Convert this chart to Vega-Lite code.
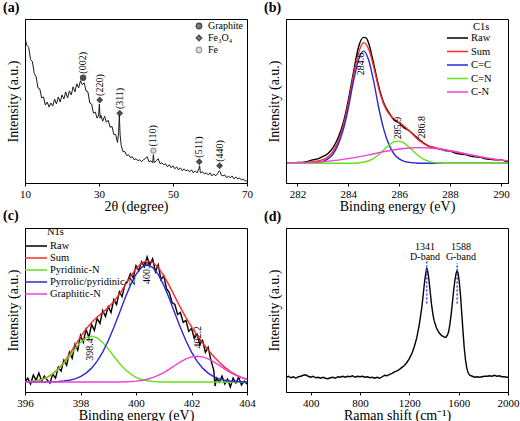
{
"$schema":"https://vega.github.io/schema/vega-lite/v6.json",
"background":"white",
"padding":{"left":2,"top":0,"right":6,"bottom":2},
"columns":2,
"spacing":{"row":45,"column":39},
"bounds":"flush",
"resolve":{"scale":{"color":"independent","shape":"independent","fill":"independent","stroke":"independent","x":"independent","y":"independent"},"legend":{"color":"independent","shape":"independent","fill":"independent","stroke":"independent"}},
"datasets":{
"xrd":[{"t":10,"v":143},{"t":10.5,"v":136},{"t":11,"v":134},{"t":11.5,"v":122},{"t":12,"v":120},{"t":12.5,"v":108},{"t":13,"v":105},{"t":13.5,"v":94},{"t":14,"v":93},{"t":14.5,"v":84},{"t":15,"v":85},{"t":15.5,"v":77},{"t":16,"v":80},{"t":16.5,"v":75},{"t":17,"v":79},{"t":17.5,"v":76},{"t":18,"v":83},{"t":18.5,"v":78},{"t":19,"v":85},{"t":19.5,"v":80},{"t":20,"v":87},{"t":20.5,"v":83},{"t":21,"v":90},{"t":21.5,"v":84},{"t":22,"v":91},{"t":22.5,"v":87},{"t":23,"v":95},{"t":23.5,"v":90},{"t":24,"v":98},{"t":24.5,"v":94},{"t":25,"v":101},{"t":25.5,"v":97},{"t":26,"v":99},{"t":26.5,"v":91},{"t":27,"v":90},{"t":27.5,"v":79},{"t":28,"v":78},{"t":28.5,"v":69},{"t":29,"v":70},{"t":29.5,"v":64},{"t":29.9,"v":67},{"t":30.1,"v":78},{"t":30.3,"v":64},{"t":30.5,"v":67},{"t":31,"v":61},{"t":31.5,"v":66},{"t":32,"v":60},{"t":32.5,"v":62},{"t":33,"v":55},{"t":33.5,"v":56},{"t":34,"v":48},{"t":34.5,"v":48},{"t":35,"v":40},{"t":35.3,"v":50},{"t":35.5,"v":67},{"t":35.7,"v":48},{"t":36,"v":37},{"t":36.5,"v":31},{"t":37,"v":31},{"t":37.5,"v":27},{"t":38,"v":28},{"t":38.5,"v":25},{"t":39,"v":26},{"t":39.5,"v":23},{"t":40,"v":24},{"t":40.5,"v":22},{"t":41,"v":23},{"t":41.5,"v":21},{"t":42,"v":23},{"t":42.5,"v":24},{"t":43,"v":26},{"t":43.5,"v":21},{"t":44,"v":22},{"t":44.5,"v":20},{"t":44.7,"v":28},{"t":44.9,"v":20},{"t":45.5,"v":22},{"t":46,"v":24},{"t":46.5,"v":19},{"t":47,"v":20},{"t":47.5,"v":18},{"t":48,"v":19},{"t":48.5,"v":16},{"t":49,"v":18},{"t":49.5,"v":15},{"t":50,"v":17},{"t":50.5,"v":14},{"t":51,"v":16},{"t":51.5,"v":13},{"t":52,"v":15},{"t":52.5,"v":12},{"t":53,"v":14},{"t":53.5,"v":12},{"t":54,"v":13},{"t":54.5,"v":11},{"t":55,"v":13},{"t":55.5,"v":10},{"t":56,"v":12},{"t":56.5,"v":10},{"t":57,"v":14},{"t":57.2,"v":17},{"t":57.4,"v":10},{"t":58,"v":11},{"t":58.5,"v":9},{"t":59,"v":10},{"t":59.5,"v":8},{"t":60,"v":10},{"t":60.5,"v":7},{"t":61,"v":9},{"t":61.5,"v":7},{"t":62,"v":9},{"t":62.5,"v":12},{"t":62.8,"v":11},{"t":63,"v":8},{"t":63.5,"v":7},{"t":64,"v":8},{"t":64.5,"v":5},{"t":65,"v":7},{"t":65.5,"v":5},{"t":66,"v":7},{"t":66.5,"v":4},{"t":67,"v":6},{"t":67.5,"v":4},{"t":68,"v":5},{"t":68.5,"v":3},{"t":69,"v":4},{"t":69.5,"v":2},{"t":70,"v":2}],
"xrdpk":[{"t":25.7,"m":104,"l":108,"h":"(002)","p":"Graphite"},{"t":30.2,"m":82,"l":86,"h":"(220)","p":"Fe₃O₄"},{"t":35.6,"m":69,"l":73,"h":"(311)","p":"Fe₃O₄"},{"t":44.7,"m":32,"l":36,"h":"(110)","p":"Fe"},{"t":57.1,"m":21,"l":25,"h":"(511)","p":"Fe₃O₄"},{"t":62.6,"m":17,"l":21,"h":"(440)","p":"Fe₃O₄"}],
"c1s":[
{"e":281.6,"v":20.5,"s":"Raw"},{"e":281.8,"v":20.0,"s":"Raw"},{"e":282.0,"v":21.0,"s":"Raw"},{"e":282.2,"v":20.8,"s":"Raw"},{"e":282.4,"v":22.0,"s":"Raw"},{"e":282.6,"v":23.5,"s":"Raw"},{"e":282.8,"v":24.5,"s":"Raw"},{"e":283.0,"v":27,"s":"Raw"},{"e":283.2,"v":30,"s":"Raw"},{"e":283.4,"v":36,"s":"Raw"},{"e":283.6,"v":46,"s":"Raw"},{"e":283.8,"v":61,"s":"Raw"},{"e":284.0,"v":84,"s":"Raw"},{"e":284.2,"v":112,"s":"Raw"},{"e":284.4,"v":138,"s":"Raw"},{"e":284.6,"v":148,"s":"Raw"},{"e":284.7,"v":147.5,"s":"Raw"},{"e":284.8,"v":142,"s":"Raw"},{"e":285.0,"v":121,"s":"Raw"},{"e":285.2,"v":98,"s":"Raw"},{"e":285.4,"v":81,"s":"Raw"},{"e":285.6,"v":71.5,"s":"Raw"},{"e":285.8,"v":64,"s":"Raw"},{"e":286.0,"v":61,"s":"Raw"},{"e":286.2,"v":56,"s":"Raw"},{"e":286.4,"v":53,"s":"Raw"},{"e":286.6,"v":48.5,"s":"Raw"},{"e":286.8,"v":44,"s":"Raw"},{"e":287.0,"v":40,"s":"Raw"},{"e":287.2,"v":37,"s":"Raw"},{"e":287.4,"v":36,"s":"Raw"},{"e":287.6,"v":34.5,"s":"Raw"},{"e":287.8,"v":33,"s":"Raw"},{"e":288.0,"v":32.5,"s":"Raw"},{"e":288.2,"v":30.5,"s":"Raw"},{"e":288.4,"v":29.5,"s":"Raw"},{"e":288.6,"v":29,"s":"Raw"},{"e":288.8,"v":27.5,"s":"Raw"},{"e":289.0,"v":26.5,"s":"Raw"},{"e":289.2,"v":26,"s":"Raw"},{"e":289.4,"v":24.5,"s":"Raw"},{"e":289.6,"v":24,"s":"Raw"},{"e":289.8,"v":23.5,"s":"Raw"},{"e":290.0,"v":23.5,"s":"Raw"},{"e":290.2,"v":22,"s":"Raw"},{"e":290.4,"v":21.5,"s":"Raw"},
{"e":281.6,"v":20.3,"s":"Sum"},{"e":281.8,"v":20.3,"s":"Sum"},{"e":282.0,"v":20.5,"s":"Sum"},{"e":282.2,"v":20.6,"s":"Sum"},{"e":282.4,"v":20.8,"s":"Sum"},{"e":282.6,"v":21.6,"s":"Sum"},{"e":282.8,"v":22.4,"s":"Sum"},{"e":283.0,"v":23.7,"s":"Sum"},{"e":283.2,"v":26.7,"s":"Sum"},{"e":283.4,"v":32.2,"s":"Sum"},{"e":283.6,"v":42.3,"s":"Sum"},{"e":283.8,"v":58.0,"s":"Sum"},{"e":284.0,"v":80.8,"s":"Sum"},{"e":284.2,"v":108.8,"s":"Sum"},{"e":284.4,"v":132.0,"s":"Sum"},{"e":284.6,"v":142.7,"s":"Sum"},{"e":284.8,"v":136.2,"s":"Sum"},{"e":285.0,"v":117.8,"s":"Sum"},{"e":285.2,"v":95.7,"s":"Sum"},{"e":285.4,"v":79.6,"s":"Sum"},{"e":285.6,"v":70.4,"s":"Sum"},{"e":285.8,"v":65.1,"s":"Sum"},{"e":286.0,"v":61.6,"s":"Sum"},{"e":286.2,"v":57.6,"s":"Sum"},{"e":286.4,"v":52.9,"s":"Sum"},{"e":286.6,"v":47.7,"s":"Sum"},{"e":286.8,"v":42.9,"s":"Sum"},{"e":287.0,"v":39.6,"s":"Sum"},{"e":287.2,"v":37.3,"s":"Sum"},{"e":287.4,"v":35.8,"s":"Sum"},{"e":287.6,"v":34.8,"s":"Sum"},{"e":287.8,"v":33.7,"s":"Sum"},{"e":288.0,"v":32.8,"s":"Sum"},{"e":288.2,"v":31.8,"s":"Sum"},{"e":288.4,"v":30.8,"s":"Sum"},{"e":288.6,"v":29.7,"s":"Sum"},{"e":288.8,"v":28.6,"s":"Sum"},{"e":289.0,"v":27.6,"s":"Sum"},{"e":289.2,"v":26.6,"s":"Sum"},{"e":289.4,"v":25.6,"s":"Sum"},{"e":289.6,"v":24.8,"s":"Sum"},{"e":289.8,"v":24.0,"s":"Sum"},{"e":290.0,"v":23.3,"s":"Sum"},{"e":290.2,"v":22.7,"s":"Sum"},{"e":290.4,"v":22.2,"s":"Sum"},
{"e":281.6,"v":20,"s":"C=C"},{"e":282.4,"v":20,"s":"C=C"},{"e":282.6,"v":20.5,"s":"C=C"},{"e":282.8,"v":21,"s":"C=C"},{"e":283.0,"v":22,"s":"C=C"},{"e":283.2,"v":24.5,"s":"C=C"},{"e":283.4,"v":29.5,"s":"C=C"},{"e":283.6,"v":39,"s":"C=C"},{"e":283.8,"v":54,"s":"C=C"},{"e":284.0,"v":76,"s":"C=C"},{"e":284.2,"v":103,"s":"C=C"},{"e":284.4,"v":125,"s":"C=C"},{"e":284.6,"v":134,"s":"C=C"},{"e":284.8,"v":125,"s":"C=C"},{"e":285.0,"v":103,"s":"C=C"},{"e":285.2,"v":76,"s":"C=C"},{"e":285.4,"v":54,"s":"C=C"},{"e":285.6,"v":39,"s":"C=C"},{"e":285.8,"v":29.5,"s":"C=C"},{"e":286.0,"v":24.5,"s":"C=C"},{"e":286.2,"v":22,"s":"C=C"},{"e":286.4,"v":21,"s":"C=C"},{"e":286.6,"v":20.5,"s":"C=C"},{"e":286.8,"v":20,"s":"C=C"},{"e":290.4,"v":20,"s":"C=C"},
{"e":281.6,"v":20,"s":"C=N"},{"e":284.0,"v":20,"s":"C=N"},{"e":284.2,"v":20.1,"s":"C=N"},{"e":284.4,"v":20.4,"s":"C=N"},{"e":284.6,"v":21.1,"s":"C=N"},{"e":284.8,"v":22.6,"s":"C=N"},{"e":285.0,"v":25.1,"s":"C=N"},{"e":285.2,"v":29.0,"s":"C=N"},{"e":285.4,"v":33.8,"s":"C=N"},{"e":285.6,"v":38.5,"s":"C=N"},{"e":285.8,"v":41.9,"s":"C=N"},{"e":286.0,"v":42.6,"s":"C=N"},{"e":286.2,"v":40.5,"s":"C=N"},{"e":286.4,"v":36.2,"s":"C=N"},{"e":286.6,"v":31.3,"s":"C=N"},{"e":286.8,"v":26.9,"s":"C=N"},{"e":287.0,"v":23.7,"s":"C=N"},{"e":287.2,"v":21.7,"s":"C=N"},{"e":287.4,"v":20.7,"s":"C=N"},{"e":287.6,"v":20.3,"s":"C=N"},{"e":287.8,"v":20,"s":"C=N"},{"e":290.4,"v":20,"s":"C=N"},
{"e":281.6,"v":20.3,"s":"C-N"},{"e":282.0,"v":20.5,"s":"C-N"},{"e":282.4,"v":20.8,"s":"C-N"},{"e":282.8,"v":21.4,"s":"C-N"},{"e":283.2,"v":22.2,"s":"C-N"},{"e":283.6,"v":23.3,"s":"C-N"},{"e":284.0,"v":24.8,"s":"C-N"},{"e":284.4,"v":26.6,"s":"C-N"},{"e":284.8,"v":28.6,"s":"C-N"},{"e":285.2,"v":30.8,"s":"C-N"},{"e":285.6,"v":32.8,"s":"C-N"},{"e":286.0,"v":34.5,"s":"C-N"},{"e":286.4,"v":35.6,"s":"C-N"},{"e":286.8,"v":36.0,"s":"C-N"},{"e":287.2,"v":35.6,"s":"C-N"},{"e":287.6,"v":34.5,"s":"C-N"},{"e":288.0,"v":32.8,"s":"C-N"},{"e":288.4,"v":30.8,"s":"C-N"},{"e":288.8,"v":28.6,"s":"C-N"},{"e":289.2,"v":26.6,"s":"C-N"},{"e":289.6,"v":24.8,"s":"C-N"},{"e":290.0,"v":23.3,"s":"C-N"},{"e":290.4,"v":22.2,"s":"C-N"}
],
"c1slab":[{"e":284.49,"v":121,"t":"284.6"},{"e":285.96,"v":56,"t":"285.9"},{"e":286.88,"v":56.7,"t":"286.8"}],
"c1shead":[{"e":288.9,"v":158.5,"t":"C1s"}],
"n1s":[
{"e":396.0,"v":10,"s":"Raw"},{"e":396.1,"v":14,"s":"Raw"},{"e":396.2,"v":8,"s":"Raw"},{"e":396.3,"v":17,"s":"Raw"},{"e":396.4,"v":12,"s":"Raw"},{"e":396.5,"v":19,"s":"Raw"},{"e":396.6,"v":11,"s":"Raw"},{"e":396.7,"v":16,"s":"Raw"},{"e":396.8,"v":12,"s":"Raw"},{"e":396.9,"v":9,"s":"Raw"},{"e":397.0,"v":18,"s":"Raw"},{"e":397.1,"v":14,"s":"Raw"},{"e":397.2,"v":25,"s":"Raw"},{"e":397.3,"v":21,"s":"Raw"},{"e":397.4,"v":32,"s":"Raw"},{"e":397.5,"v":27,"s":"Raw"},{"e":397.6,"v":40,"s":"Raw"},{"e":397.7,"v":34,"s":"Raw"},{"e":397.8,"v":48,"s":"Raw"},{"e":397.9,"v":42,"s":"Raw"},{"e":398.0,"v":57,"s":"Raw"},{"e":398.1,"v":50,"s":"Raw"},{"e":398.2,"v":63,"s":"Raw"},{"e":398.3,"v":55,"s":"Raw"},{"e":398.4,"v":68,"s":"Raw"},{"e":398.5,"v":62,"s":"Raw"},{"e":398.6,"v":74,"s":"Raw"},{"e":398.7,"v":69,"s":"Raw"},{"e":398.8,"v":82,"s":"Raw"},{"e":398.9,"v":76,"s":"Raw"},{"e":399.0,"v":86,"s":"Raw"},{"e":399.1,"v":80,"s":"Raw"},{"e":399.2,"v":93,"s":"Raw"},{"e":399.3,"v":88,"s":"Raw"},{"e":399.4,"v":101,"s":"Raw"},{"e":399.5,"v":96,"s":"Raw"},{"e":399.6,"v":108,"s":"Raw"},{"e":399.7,"v":112,"s":"Raw"},{"e":399.8,"v":119,"s":"Raw"},{"e":399.9,"v":115,"s":"Raw"},{"e":400.0,"v":127,"s":"Raw"},{"e":400.1,"v":122,"s":"Raw"},{"e":400.2,"v":131,"s":"Raw"},{"e":400.3,"v":126,"s":"Raw"},{"e":400.4,"v":136,"s":"Raw"},{"e":400.5,"v":128,"s":"Raw"},{"e":400.6,"v":134,"s":"Raw"},{"e":400.7,"v":121,"s":"Raw"},{"e":400.8,"v":128,"s":"Raw"},{"e":400.9,"v":113,"s":"Raw"},{"e":401.0,"v":117,"s":"Raw"},{"e":401.1,"v":104,"s":"Raw"},{"e":401.2,"v":100,"s":"Raw"},{"e":401.3,"v":90,"s":"Raw"},{"e":401.4,"v":88,"s":"Raw"},{"e":401.5,"v":78,"s":"Raw"},{"e":401.6,"v":80,"s":"Raw"},{"e":401.7,"v":70,"s":"Raw"},{"e":401.8,"v":72,"s":"Raw"},{"e":401.9,"v":61,"s":"Raw"},{"e":402.0,"v":64,"s":"Raw"},{"e":402.1,"v":54,"s":"Raw"},{"e":402.2,"v":58,"s":"Raw"},{"e":402.3,"v":48,"s":"Raw"},{"e":402.4,"v":52,"s":"Raw"},{"e":402.5,"v":40,"s":"Raw"},{"e":402.6,"v":45,"s":"Raw"},{"e":402.7,"v":32,"s":"Raw"},{"e":402.8,"v":22,"s":"Raw"},{"e":402.85,"v":6,"s":"Raw"},{"e":402.9,"v":14,"s":"Raw"},{"e":403.0,"v":10,"s":"Raw"},{"e":403.1,"v":16,"s":"Raw"},{"e":403.2,"v":8,"s":"Raw"},{"e":403.3,"v":13,"s":"Raw"},{"e":403.4,"v":5,"s":"Raw"},{"e":403.5,"v":14,"s":"Raw"},{"e":403.6,"v":9,"s":"Raw"},{"e":403.7,"v":15,"s":"Raw"},{"e":403.8,"v":7,"s":"Raw"},{"e":403.9,"v":11,"s":"Raw"},{"e":404.0,"v":8,"s":"Raw"},
{"e":396.0,"v":10.3,"s":"Sum"},{"e":396.2,"v":10.6,"s":"Sum"},{"e":396.4,"v":11.3,"s":"Sum"},{"e":396.6,"v":12.6,"s":"Sum"},{"e":396.8,"v":14.8,"s":"Sum"},{"e":397.0,"v":18.4,"s":"Sum"},{"e":397.2,"v":23.3,"s":"Sum"},{"e":397.4,"v":29.9,"s":"Sum"},{"e":397.6,"v":37.8,"s":"Sum"},{"e":397.8,"v":46.6,"s":"Sum"},{"e":398.0,"v":55.4,"s":"Sum"},{"e":398.2,"v":63.4,"s":"Sum"},{"e":398.4,"v":70.0,"s":"Sum"},{"e":398.6,"v":75.5,"s":"Sum"},{"e":398.8,"v":80.1,"s":"Sum"},{"e":399.0,"v":85.0,"s":"Sum"},{"e":399.2,"v":91.0,"s":"Sum"},{"e":399.4,"v":98.3,"s":"Sum"},{"e":399.6,"v":107.1,"s":"Sum"},{"e":399.8,"v":116.1,"s":"Sum"},{"e":400.0,"v":124.0,"s":"Sum"},{"e":400.2,"v":129.7,"s":"Sum"},{"e":400.4,"v":132.1,"s":"Sum"},{"e":400.6,"v":130.5,"s":"Sum"},{"e":400.8,"v":125.4,"s":"Sum"},{"e":401.0,"v":117.2,"s":"Sum"},{"e":401.2,"v":107.0,"s":"Sum"},{"e":401.4,"v":96.0,"s":"Sum"},{"e":401.6,"v":85.2,"s":"Sum"},{"e":401.8,"v":74.9,"s":"Sum"},{"e":402.0,"v":65.5,"s":"Sum"},{"e":402.2,"v":57.1,"s":"Sum"},{"e":402.4,"v":49.3,"s":"Sum"},{"e":402.6,"v":42.3,"s":"Sum"},{"e":402.8,"v":35.8,"s":"Sum"},{"e":403.0,"v":29.9,"s":"Sum"},{"e":403.2,"v":24.8,"s":"Sum"},{"e":403.4,"v":20.6,"s":"Sum"},{"e":403.6,"v":17.2,"s":"Sum"},{"e":403.8,"v":14.7,"s":"Sum"},{"e":404.0,"v":12.9,"s":"Sum"},
{"e":396.0,"v":10.3,"s":"Pyridinic-N"},{"e":396.2,"v":10.6,"s":"Pyridinic-N"},{"e":396.4,"v":11.3,"s":"Pyridinic-N"},{"e":396.6,"v":12.6,"s":"Pyridinic-N"},{"e":396.8,"v":14.7,"s":"Pyridinic-N"},{"e":397.0,"v":18.1,"s":"Pyridinic-N"},{"e":397.2,"v":22.8,"s":"Pyridinic-N"},{"e":397.4,"v":28.9,"s":"Pyridinic-N"},{"e":397.6,"v":36.0,"s":"Pyridinic-N"},{"e":397.8,"v":43.4,"s":"Pyridinic-N"},{"e":398.0,"v":49.9,"s":"Pyridinic-N"},{"e":398.2,"v":54.4,"s":"Pyridinic-N"},{"e":398.4,"v":56.0,"s":"Pyridinic-N"},{"e":398.6,"v":54.4,"s":"Pyridinic-N"},{"e":398.8,"v":49.9,"s":"Pyridinic-N"},{"e":399.0,"v":43.4,"s":"Pyridinic-N"},{"e":399.2,"v":36.0,"s":"Pyridinic-N"},{"e":399.4,"v":28.9,"s":"Pyridinic-N"},{"e":399.6,"v":22.8,"s":"Pyridinic-N"},{"e":399.8,"v":18.1,"s":"Pyridinic-N"},{"e":400.0,"v":14.7,"s":"Pyridinic-N"},{"e":400.2,"v":12.6,"s":"Pyridinic-N"},{"e":400.4,"v":11.3,"s":"Pyridinic-N"},{"e":400.6,"v":10.6,"s":"Pyridinic-N"},{"e":400.8,"v":10.3,"s":"Pyridinic-N"},{"e":401.0,"v":10.1,"s":"Pyridinic-N"},{"e":401.2,"v":10,"s":"Pyridinic-N"},{"e":404.0,"v":10,"s":"Pyridinic-N"},
{"e":396.0,"v":10,"s":"Pyrrolic/pyridinic-N"},{"e":396.8,"v":10.1,"s":"Pyrrolic/pyridinic-N"},{"e":397.0,"v":10.3,"s":"Pyrrolic/pyridinic-N"},{"e":397.2,"v":10.5,"s":"Pyrrolic/pyridinic-N"},{"e":397.4,"v":11.0,"s":"Pyrrolic/pyridinic-N"},{"e":397.6,"v":11.8,"s":"Pyrrolic/pyridinic-N"},{"e":397.8,"v":13.2,"s":"Pyrrolic/pyridinic-N"},{"e":398.0,"v":15.5,"s":"Pyrrolic/pyridinic-N"},{"e":398.2,"v":19.0,"s":"Pyrrolic/pyridinic-N"},{"e":398.4,"v":24.0,"s":"Pyrrolic/pyridinic-N"},{"e":398.6,"v":31.1,"s":"Pyrrolic/pyridinic-N"},{"e":398.8,"v":40.2,"s":"Pyrrolic/pyridinic-N"},{"e":399.0,"v":51.6,"s":"Pyrrolic/pyridinic-N"},{"e":399.2,"v":64.9,"s":"Pyrrolic/pyridinic-N"},{"e":399.4,"v":79.3,"s":"Pyrrolic/pyridinic-N"},{"e":399.6,"v":94.0,"s":"Pyrrolic/pyridinic-N"},{"e":399.8,"v":107.5,"s":"Pyrrolic/pyridinic-N"},{"e":400.0,"v":118.4,"s":"Pyrrolic/pyridinic-N"},{"e":400.2,"v":125.5,"s":"Pyrrolic/pyridinic-N"},{"e":400.4,"v":128.0,"s":"Pyrrolic/pyridinic-N"},{"e":400.6,"v":125.5,"s":"Pyrrolic/pyridinic-N"},{"e":400.8,"v":118.4,"s":"Pyrrolic/pyridinic-N"},{"e":401.0,"v":107.5,"s":"Pyrrolic/pyridinic-N"},{"e":401.2,"v":94.0,"s":"Pyrrolic/pyridinic-N"},{"e":401.4,"v":79.3,"s":"Pyrrolic/pyridinic-N"},{"e":401.6,"v":64.9,"s":"Pyrrolic/pyridinic-N"},{"e":401.8,"v":51.6,"s":"Pyrrolic/pyridinic-N"},{"e":402.0,"v":40.2,"s":"Pyrrolic/pyridinic-N"},{"e":402.2,"v":31.1,"s":"Pyrrolic/pyridinic-N"},{"e":402.4,"v":24.0,"s":"Pyrrolic/pyridinic-N"},{"e":402.6,"v":19.0,"s":"Pyrrolic/pyridinic-N"},{"e":402.8,"v":15.5,"s":"Pyrrolic/pyridinic-N"},{"e":403.0,"v":13.2,"s":"Pyrrolic/pyridinic-N"},{"e":403.2,"v":11.8,"s":"Pyrrolic/pyridinic-N"},{"e":403.4,"v":11.0,"s":"Pyrrolic/pyridinic-N"},{"e":403.6,"v":10.5,"s":"Pyrrolic/pyridinic-N"},{"e":403.8,"v":10.3,"s":"Pyrrolic/pyridinic-N"},{"e":404.0,"v":10.1,"s":"Pyrrolic/pyridinic-N"},
{"e":396.0,"v":10,"s":"Graphitic-N"},{"e":399.0,"v":10,"s":"Graphitic-N"},{"e":399.4,"v":10.1,"s":"Graphitic-N"},{"e":399.6,"v":10.25,"s":"Graphitic-N"},{"e":399.8,"v":10.5,"s":"Graphitic-N"},{"e":400.0,"v":10.9,"s":"Graphitic-N"},{"e":400.2,"v":11.6,"s":"Graphitic-N"},{"e":400.4,"v":12.8,"s":"Graphitic-N"},{"e":400.6,"v":14.4,"s":"Graphitic-N"},{"e":400.8,"v":16.7,"s":"Graphitic-N"},{"e":401.0,"v":19.6,"s":"Graphitic-N"},{"e":401.2,"v":23.0,"s":"Graphitic-N"},{"e":401.4,"v":26.7,"s":"Graphitic-N"},{"e":401.6,"v":30.3,"s":"Graphitic-N"},{"e":401.8,"v":33.3,"s":"Graphitic-N"},{"e":402.0,"v":35.3,"s":"Graphitic-N"},{"e":402.2,"v":36.0,"s":"Graphitic-N"},{"e":402.4,"v":35.3,"s":"Graphitic-N"},{"e":402.6,"v":33.3,"s":"Graphitic-N"},{"e":402.8,"v":30.3,"s":"Graphitic-N"},{"e":403.0,"v":26.7,"s":"Graphitic-N"},{"e":403.2,"v":23.0,"s":"Graphitic-N"},{"e":403.4,"v":19.6,"s":"Graphitic-N"},{"e":403.6,"v":16.7,"s":"Graphitic-N"},{"e":403.8,"v":14.4,"s":"Graphitic-N"},{"e":404.0,"v":12.8,"s":"Graphitic-N"}
],
"n1slab":[{"e":400.39,"v":120,"t":"400.4"},{"e":398.36,"v":42.7,"t":"398.4"},{"e":402.22,"v":55,"t":"402.2"}],
"n1shead":[{"e":396.79,"v":160.5,"t":"N1s"}],
"raman":[{"r":200,"v":15},{"r":220,"v":16},{"r":240,"v":14.5},{"r":260,"v":15.5},{"r":280,"v":14},{"r":300,"v":15.5},{"r":320,"v":16},{"r":340,"v":17},{"r":360,"v":17.5},{"r":380,"v":16},{"r":400,"v":15},{"r":420,"v":16},{"r":440,"v":14.5},{"r":460,"v":15},{"r":480,"v":14},{"r":500,"v":15},{"r":520,"v":14},{"r":540,"v":13.5},{"r":560,"v":14.5},{"r":580,"v":15},{"r":600,"v":14},{"r":620,"v":15.5},{"r":640,"v":15},{"r":660,"v":16},{"r":680,"v":15},{"r":700,"v":16},{"r":720,"v":15.5},{"r":740,"v":16.5},{"r":760,"v":15},{"r":780,"v":16},{"r":800,"v":15.5},{"r":820,"v":16},{"r":840,"v":15},{"r":860,"v":15.5},{"r":880,"v":14.5},{"r":900,"v":15},{"r":920,"v":14},{"r":940,"v":15},{"r":960,"v":14},{"r":980,"v":15.5},{"r":1000,"v":17},{"r":1020,"v":16.5},{"r":1040,"v":18},{"r":1060,"v":19},{"r":1080,"v":20.5},{"r":1100,"v":21.5},{"r":1120,"v":23},{"r":1140,"v":25},{"r":1160,"v":27},{"r":1180,"v":30},{"r":1200,"v":34},{"r":1220,"v":39},{"r":1240,"v":46},{"r":1260,"v":55},{"r":1280,"v":68},{"r":1300,"v":85},{"r":1310,"v":96},{"r":1320,"v":108},{"r":1330,"v":118},{"r":1341,"v":126},{"r":1350,"v":122},{"r":1360,"v":113},{"r":1370,"v":101},{"r":1380,"v":89},{"r":1390,"v":80},{"r":1400,"v":73},{"r":1420,"v":65},{"r":1440,"v":60.5},{"r":1460,"v":57.5},{"r":1480,"v":56},{"r":1495,"v":55.5},{"r":1510,"v":58},{"r":1520,"v":62},{"r":1530,"v":70},{"r":1540,"v":80},{"r":1550,"v":92},{"r":1560,"v":104},{"r":1570,"v":114},{"r":1580,"v":121},{"r":1588,"v":123.5},{"r":1596,"v":120},{"r":1605,"v":112},{"r":1615,"v":98},{"r":1625,"v":80},{"r":1635,"v":62},{"r":1645,"v":45},{"r":1655,"v":33},{"r":1665,"v":25},{"r":1675,"v":20},{"r":1690,"v":17},{"r":1710,"v":16},{"r":1730,"v":15},{"r":1750,"v":15.5},{"r":1770,"v":15},{"r":1790,"v":15.5},{"r":1810,"v":16},{"r":1830,"v":16},{"r":1850,"v":16.5},{"r":1870,"v":16},{"r":1890,"v":17},{"r":1910,"v":16},{"r":1930,"v":16.5},{"r":1950,"v":15.5},{"r":1970,"v":15.5},{"r":1990,"v":15},{"r":2000,"v":15}],
"ramlab":[{"r":1328,"v":147,"t":"1341"},{"r":1328,"v":137,"t":"D-band"},{"r":1618,"v":147,"t":"1588"},{"r":1618,"v":137,"t":"G-band"}],
"ramrule":[{"r":1341,"a":90,"b":133},{"r":1588,"a":90,"b":131}]
},
"concat":[
{"width":222,"height":164,"title":{"text":"(a)"},
 "layer":[
  {"data":{"name":"xrd"},"mark":{"type":"line","color":"#1a1a1a","strokeWidth":1,"clip":true},
   "encoding":{"x":{"field":"t","type":"quantitative","scale":{"domain":[10,70],"nice":false},"axis":{"title":"2θ (degree)","values":[10,20,30,40,50,60,70]}},
   "y":{"field":"v","type":"quantitative","scale":{"domain":[0,162],"nice":false},"axis":{"title":"Intensity (a.u.)"}}}},
  {"data":{"name":"xrdpk"},"mark":{"type":"point","filled":true,"size":26,"strokeWidth":1.3},
   "encoding":{"x":{"field":"t","type":"quantitative"},"y":{"field":"m","type":"quantitative"},
   "shape":{"field":"p","type":"nominal","scale":{"domain":["Graphite","Fe₃O₄","Fe"],"range":["circle","diamond","circle"]},"legend":{"title":null,"orient":"none","legendX":169,"legendY":2,"rowPadding":0,"symbolSize":30,"symbolStrokeWidth":1.3,"labelOffset":4,"labelFontSize":10}},
   "fill":{"field":"p","type":"nominal","scale":{"domain":["Graphite","Fe₃O₄","Fe"],"range":["#000000","#000000","#c8c8c8"]},"legend":{"title":null,"orient":"none","legendX":169,"legendY":2,"rowPadding":0,"symbolSize":30,"symbolStrokeWidth":1.3,"labelOffset":4,"labelFontSize":10}},
   "stroke":{"field":"p","type":"nominal","scale":{"domain":["Graphite","Fe₃O₄","Fe"],"range":["#000000","#000000","#777777"]},"legend":{"title":null,"orient":"none","legendX":169,"legendY":2,"rowPadding":0,"symbolSize":30,"symbolStrokeWidth":1.3,"labelOffset":4,"labelFontSize":10}}}},
  {"data":{"name":"xrdpk"},"mark":{"type":"text","angle":270,"align":"left","baseline":"middle","fontSize":10},
   "encoding":{"x":{"field":"t","type":"quantitative"},"y":{"field":"l","type":"quantitative"},"text":{"field":"h"}}}
 ]},
{"width":222,"height":164,"title":{"text":"(b)"},
 "layer":[
  {"data":{"name":"c1s"},"mark":{"type":"line","strokeWidth":1.4,"clip":true,"interpolate":"monotone"},
   "encoding":{"x":{"field":"e","type":"quantitative","scale":{"domain":[281.55,290.28],"nice":false,"zero":false},"axis":{"title":"Binding energy (eV)","values":[282,284,286,288,290]}},
   "y":{"field":"v","type":"quantitative","scale":{"domain":[0,166.7],"nice":false},"axis":{"title":"Intensity (a.u.)"}},
   "color":{"field":"s","type":"nominal","scale":{"domain":["Raw","Sum","C=C","C=N","C-N"],"range":["#000000","#ff2a2a","#2a2ad8","#66e01a","#f040d8"]},
     "legend":{"title":null,"orient":"none","legendX":160,"legendY":13,"symbolType":"M-1,0H3.2","symbolSize":100,"symbolStrokeWidth":1.5,"rowPadding":1.5,"labelOffset":13,"labelFontSize":10.5}}}},
  {"data":{"name":"c1slab"},"mark":{"type":"text","angle":270,"align":"center","baseline":"middle","fontSize":10},
   "encoding":{"x":{"field":"e","type":"quantitative"},"y":{"field":"v","type":"quantitative"},"text":{"field":"t"}}},
  {"data":{"name":"c1shead"},"mark":{"type":"text","align":"left","baseline":"middle","fontSize":10.5},
   "encoding":{"x":{"field":"e","type":"quantitative"},"y":{"field":"v","type":"quantitative"},"text":{"field":"t"}}}
 ]},
{"width":222,"height":164,"title":{"text":"(c)"},
 "layer":[
  {"data":{"name":"n1s"},"mark":{"type":"line","strokeWidth":1.4,"clip":true},
   "encoding":{"x":{"field":"e","type":"quantitative","scale":{"domain":[396,404],"nice":false,"zero":false},"axis":{"title":"Binding energy (eV)","values":[396,398,400,402,404]}},
   "y":{"field":"v","type":"quantitative","scale":{"domain":[0,165],"nice":false},"axis":{"title":"Intensity (a.u.)"}},
   "color":{"field":"s","type":"nominal","scale":{"domain":["Raw","Sum","Pyridinic-N","Pyrrolic/pyridinic-N","Graphitic-N"],"range":["#000000","#ff2a2a","#66e01a","#2a2ad8","#f040d8"]},
     "legend":{"title":null,"orient":"none","legendX":-1,"legendY":12,"symbolType":"M-1,0H3.4","symbolSize":100,"symbolStrokeWidth":1.5,"rowPadding":0,"labelOffset":14,"labelFontSize":10.5}}}},
  {"data":{"name":"n1slab"},"mark":{"type":"text","angle":270,"align":"center","baseline":"middle","fontSize":10},
   "encoding":{"x":{"field":"e","type":"quantitative"},"y":{"field":"v","type":"quantitative"},"text":{"field":"t"}}},
  {"data":{"name":"n1shead"},"mark":{"type":"text","align":"left","baseline":"middle","fontSize":10.5},
   "encoding":{"x":{"field":"e","type":"quantitative"},"y":{"field":"v","type":"quantitative"},"text":{"field":"t"}}}
 ]},
{"width":222,"height":164,"title":{"text":"(d)"},
 "layer":[
  {"data":{"name":"raman"},"mark":{"type":"line","color":"#000000","strokeWidth":1.4,"clip":true},
   "encoding":{"x":{"field":"r","type":"quantitative","scale":{"domain":[200,2000],"nice":false,"zero":false},"axis":{"title":"Raman shift (cm⁻¹)","values":[400,800,1200,1600,2000],"format":"d"}},
   "y":{"field":"v","type":"quantitative","scale":{"domain":[0,166.7],"nice":false},"axis":{"title":"Intensity (a.u.)"}}}},
  {"data":{"name":"ramrule"},"mark":{"type":"rule","color":"#3a4fd8","strokeWidth":1.6,"strokeDash":[2,2]},
   "encoding":{"x":{"field":"r","type":"quantitative"},"y":{"field":"a","type":"quantitative"},"y2":{"field":"b"}}},
  {"data":{"name":"ramlab"},"mark":{"type":"text","align":"center","baseline":"middle","fontSize":10},
   "encoding":{"x":{"field":"r","type":"quantitative"},"y":{"field":"v","type":"quantitative"},"text":{"field":"t"}}}
 ]}
],
"config":{
 "font":"Liberation Serif",
 "view":{"stroke":"#000000","strokeWidth":1},
 "axis":{"grid":false,"domainColor":"#000000","tickColor":"#000000","tickSize":3,"labelColor":"#000000","labelFontSize":11,"labelFont":"Liberation Serif","titleFont":"Liberation Serif","titleFontSize":14,"titleFontWeight":"normal","titleColor":"#000000","labelPadding":2,"titlePadding":0,"labelFlush":false},
 "axisY":{"labels":false,"ticks":false,"titlePadding":5},
 "legend":{"labelFont":"Liberation Serif","labelFontSize":11,"labelColor":"#000000","titleFont":"Liberation Serif","titleFontSize":11,"titleFontWeight":"normal","titleColor":"#000000","padding":0},
 "title":{"font":"Liberation Serif","fontSize":14,"fontWeight":"bold","anchor":"start","frame":"group","dx":-22,"offset":0,"color":"#000000"},
 "text":{"font":"Liberation Serif","color":"#000000"}
}
}
